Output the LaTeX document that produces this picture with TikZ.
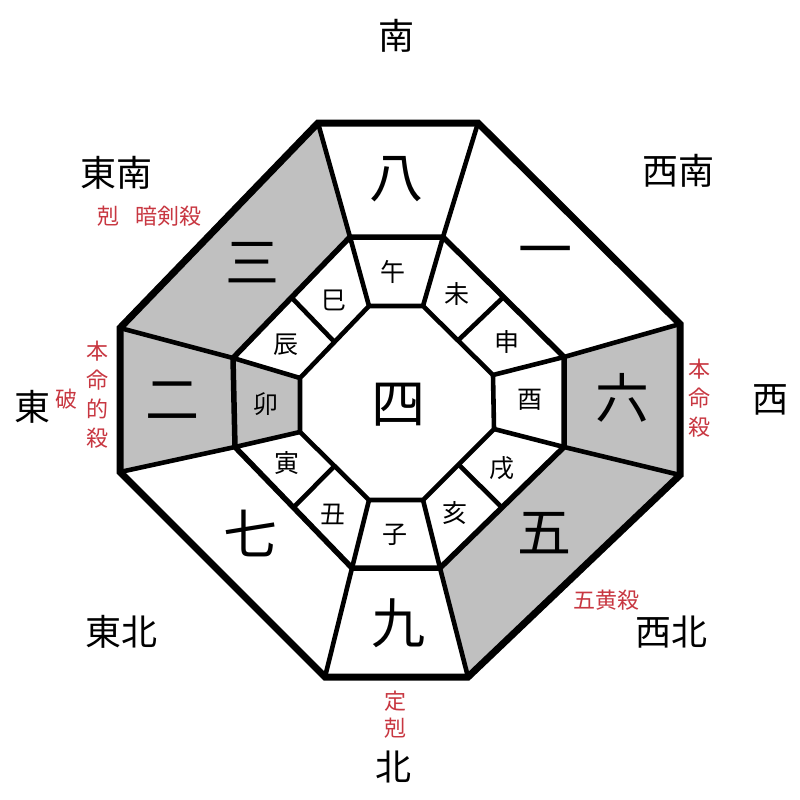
\documentclass[tikz,border=0pt]{standalone}
\usepackage{fontspec}
\usetikzlibrary{calc}
\newfontfamily\jp{Noto Sans CJK JP}
\definecolor{redc}{RGB}{200,55,65}
\definecolor{grayc}{RGB}{192,192,192}
\begin{document}
\begin{tikzpicture}[x=1pt,y=-1pt,
  dirlab/.style={font=\jp\fontsize{36}{40}\selectfont, inner sep=0pt},
  numlab/.style={font=\jp\fontsize{54}{56}\selectfont, inner sep=0pt},
  zodlab/.style={font=\jp\fontsize{25}{27}\selectfont, inner sep=0pt},
  redlab/.style={font=\jp\fontsize{22}{29}\selectfont, inner sep=0pt, text=redc, align=center},
  outerline/.style={line width=7pt, line join=miter},
  midline/.style={line width=5.5pt, line join=miter},
  thinline/.style={line width=4.6pt, line join=miter}]
\useasboundingbox (0,0) rectangle (800,800);
\fill[white] (0,0) rectangle (800,800);
% outer
\coordinate (O1) at (318,123); \coordinate (O2) at (478,123);
\coordinate (O3) at (680,324); \coordinate (O4) at (680,475);
\coordinate (O5) at (468,677); \coordinate (O6) at (325,677);
\coordinate (O7) at (120,472); \coordinate (O8) at (120,328);
% middle
\coordinate (M1) at (350,237); \coordinate (M2) at (443,237);
\coordinate (M3) at (564,357); \coordinate (M4) at (564,447);
\coordinate (M5) at (440,568); \coordinate (M6) at (352,568);
\coordinate (M7) at (235,447); \coordinate (M8) at (233,358);
% inner
\coordinate (I1) at (369,306); \coordinate (I2) at (423,306);
\coordinate (I3) at (493,375); \coordinate (I4) at (494,429);
\coordinate (I5) at (423,500); \coordinate (I6) at (369,500);
\coordinate (I7) at (300,432); \coordinate (I8) at (300,378);
% gray fills
\fill[grayc] (O8) -- (O1) -- (M1) -- (M8) -- cycle;
\fill[grayc] (O7) -- (O8) -- (M8) -- (M7) -- cycle;
\fill[grayc] (M7) -- (M8) -- (I8) -- (I7) -- cycle;
\fill[grayc] (O3) -- (O4) -- (M4) -- (M3) -- cycle;
\fill[grayc] (O4) -- (O5) -- (M5) -- (M4) -- cycle;
% radial lines
\foreach \k in {1,...,8}{\draw[thinline] (O\k) -- (M\k) -- (I\k);}
% zodiac dividers in diagonal sectors
\draw[thinline] ($(M8)!0.5!(M1)$) -- ($(I8)!0.5!(I1)$);
\draw[thinline] ($(M2)!0.5!(M3)$) -- ($(I2)!0.5!(I3)$);
\draw[thinline] ($(M4)!0.5!(M5)$) -- ($(I4)!0.5!(I5)$);
\draw[thinline] ($(M6)!0.5!(M7)$) -- ($(I6)!0.5!(I7)$);
% octagons
\draw[thinline] (I1) -- (I2) -- (I3) -- (I4) -- (I5) -- (I6) -- (I7) -- (I8) -- cycle;
\draw[midline] (M1) -- (M2) -- (M3) -- (M4) -- (M5) -- (M6) -- (M7) -- (M8) -- cycle;
\draw[outerline] (O1) -- (O2) -- (O3) -- (O4) -- (O5) -- (O6) -- (O7) -- (O8) -- cycle;
% directions
\node[dirlab] (s) at (396,36) {南};
\node[dirlab] (se) at (116,173) {東南};
\node[dirlab] (sw) at (678,171) {西南};
\node[dirlab] (e) at (32,407) {東};
\node[dirlab] (w) at (770,400) {西};
\node[dirlab] (ne) at (121,632) {東北};
\node[dirlab] (nw) at (671,632) {西北};
\node[dirlab] (n) at (393,767) {北};
% palace numbers
\node[numlab] (p8) at (396,179) {八};
\node[numlab] (p1) at (545,258) {一};
\node[numlab] (p3) at (252,263) {三};
\node[numlab] (p2) at (172,401) {二};
\node[numlab] (p4) at (398,405) {四};
\node[numlab] (p6) at (622,398) {六};
\node[numlab] (p7) at (250,533) {七};
\node[numlab] (p5) at (544,533) {五};
\node[numlab] (p9) at (398,623) {九};
% zodiac
\node[zodlab] (z1) at (393,272) {午};
\node[zodlab] (z2) at (457,294) {未};
\node[zodlab] (z3) at (507,342) {申};
\node[zodlab] (z4) at (530,400) {酉};
\node[zodlab] (z5) at (502,468) {戌};
\node[zodlab] (z6) at (455,513) {亥};
\node[zodlab] (z7) at (395,535) {子};
\node[zodlab] (z8) at (333,514) {丑};
\node[zodlab] (z9) at (287,463) {寅};
\node[zodlab] (z10) at (266,404) {卯};
\node[zodlab] (z11) at (286,345) {辰};
\node[zodlab] (z12) at (334,300) {巳};
% red labels
\node[redlab] (r1) at (108,216) {剋};
\node[redlab] (r2) at (168,216) {暗剣殺};
\node[redlab] (r3) at (97,395) {本\\命\\的\\殺};
\node[redlab] (r4) at (66,399) {破};
\node[redlab] (r5) at (699,398) {本\\命\\殺};
\node[redlab] (r6) at (606,600) {五黄殺};
\node[redlab, font=\jp\fontsize{22}{27}\selectfont] (r7) at (395,715) {定\\剋};
\end{tikzpicture}
\end{document}
